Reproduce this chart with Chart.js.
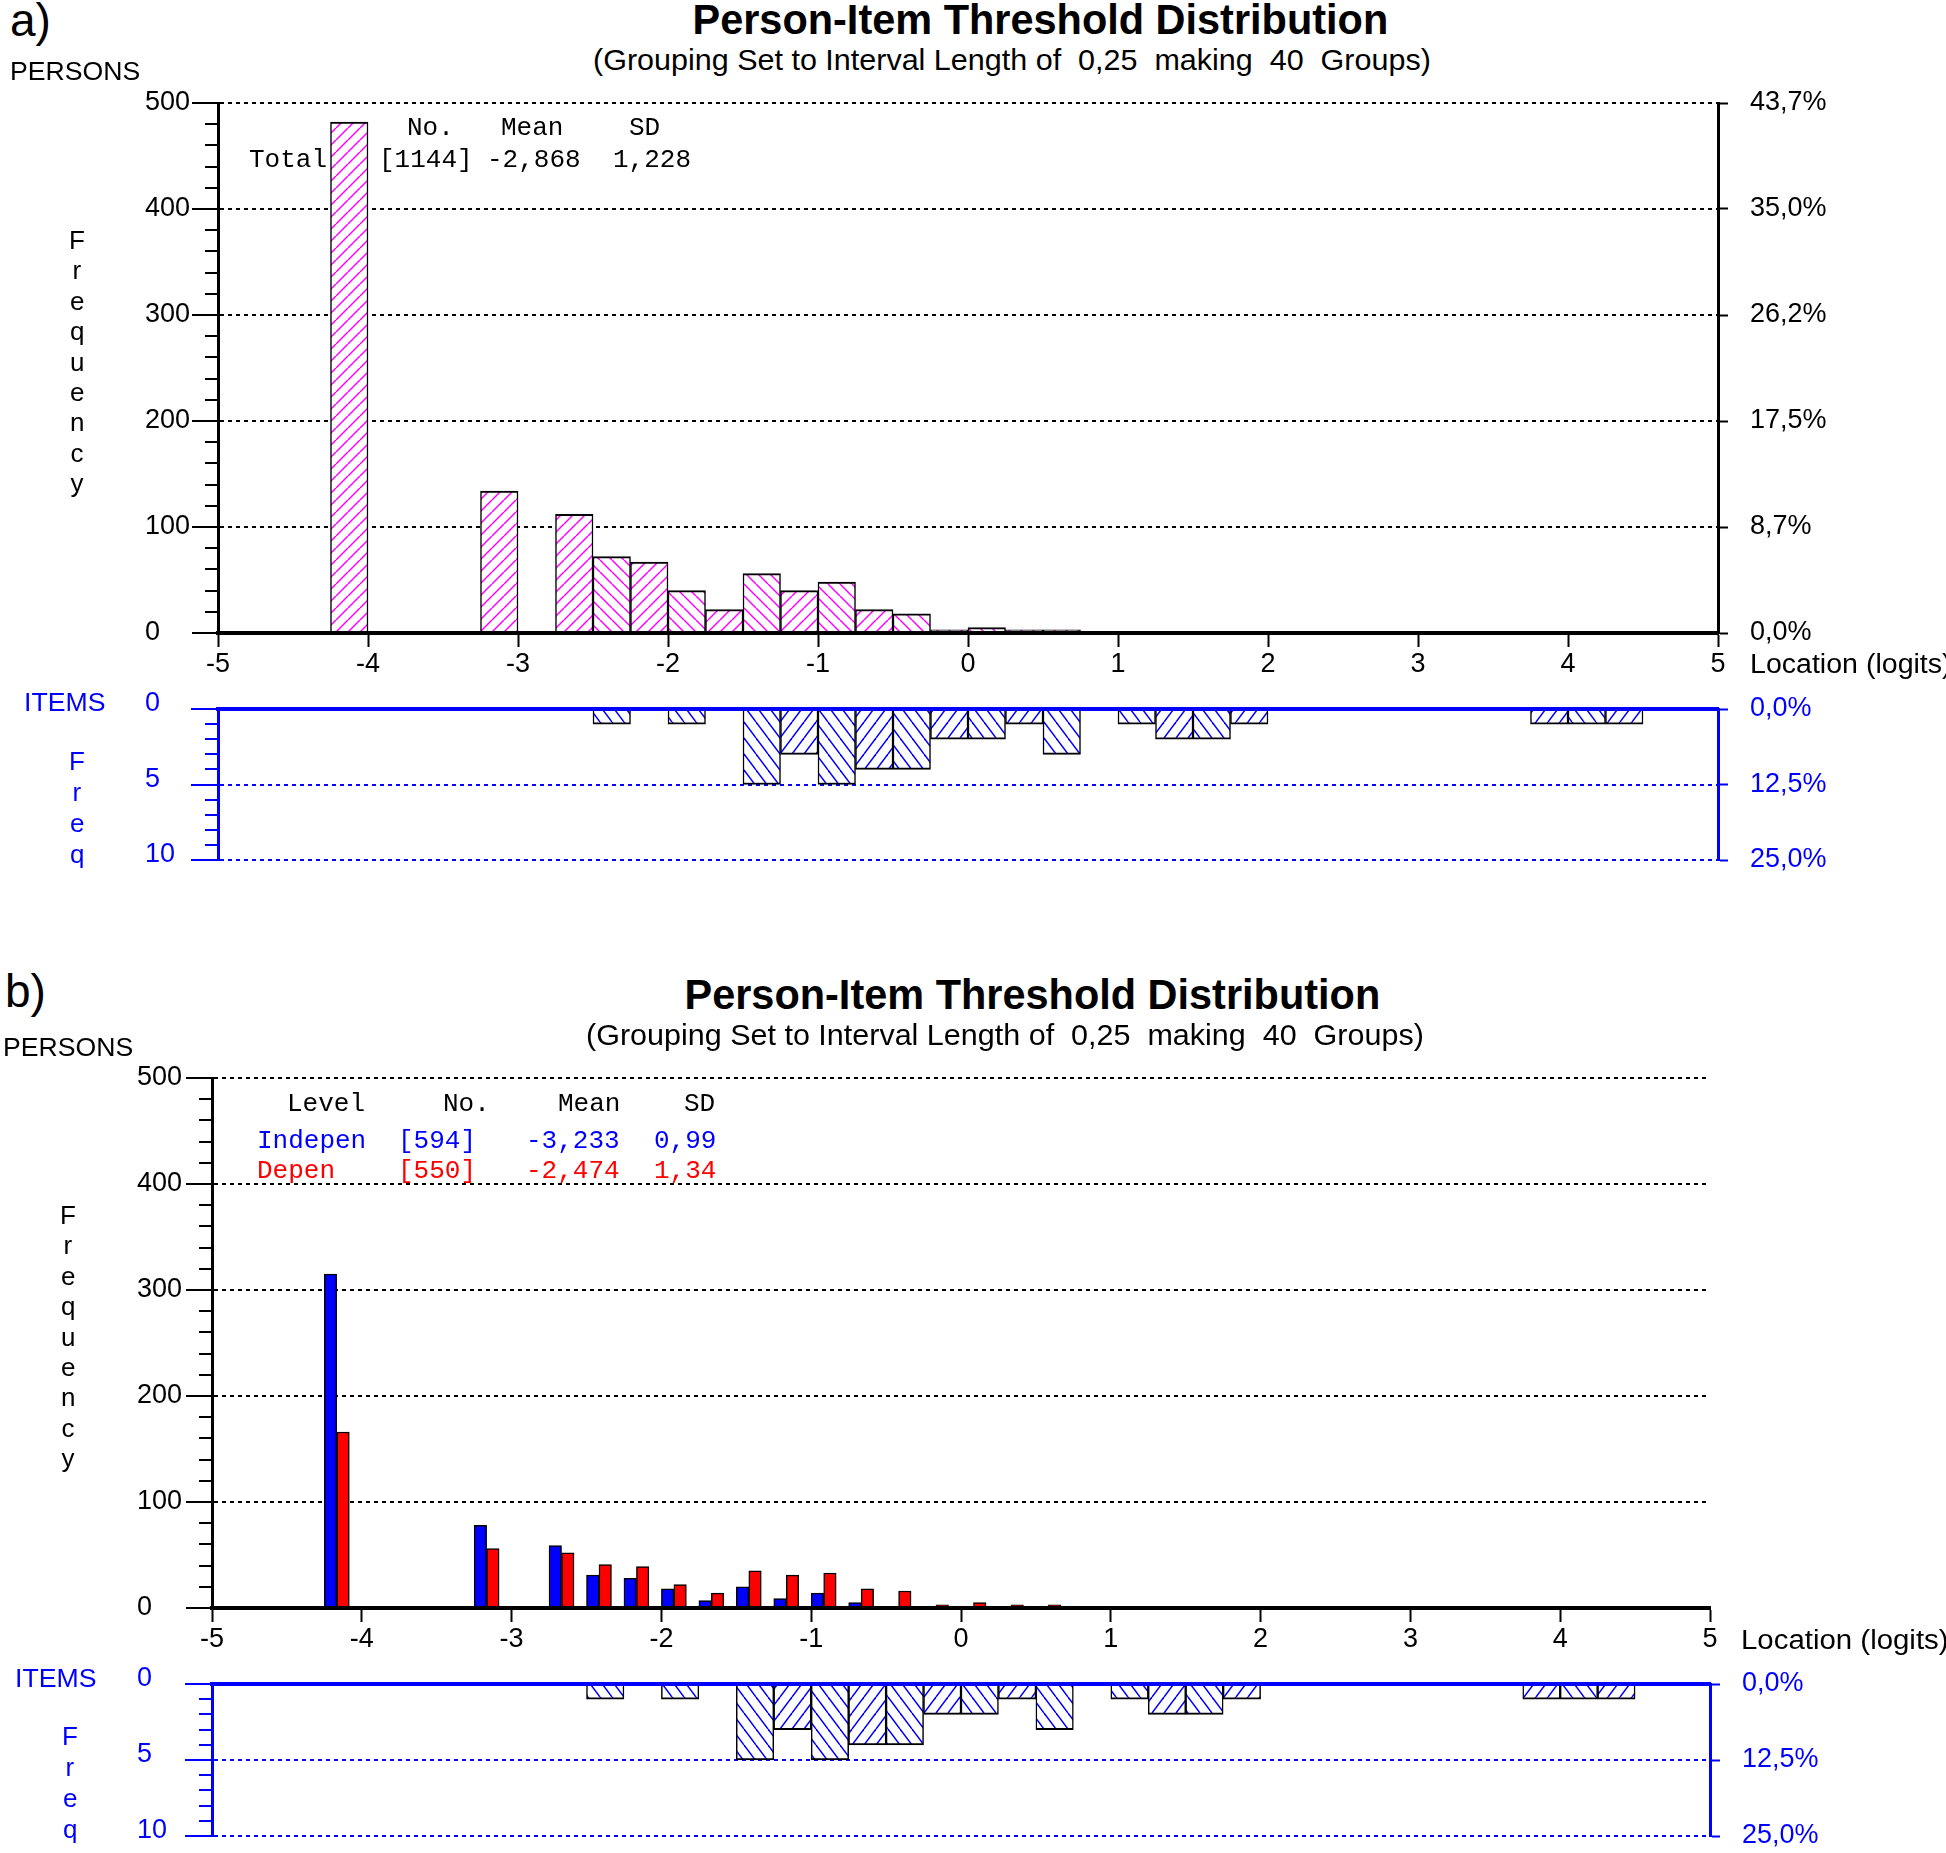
<!DOCTYPE html>
<html>
<head>
<meta charset="utf-8">
<script src="https://cdn.jsdelivr.net/npm/chart.js@4.4.0/dist/chart.umd.min.js"></script>
<style>
html, body { margin: 0; padding: 0; background: #fff; }
body { width: 1946px; height: 1853px; overflow: hidden; position: relative; font-family: "Liberation Sans", Arial, sans-serif; }
canvas { position: absolute; left: 0; }
.t { position: absolute; white-space: pre; line-height: 1; }
.mono { font-family: "Liberation Mono", "Courier New", monospace; }
</style>
</head>
<body>
<canvas id="personsA" width="1946" height="620" style="top:80px"></canvas>
<canvas id="itemsA" width="1946" height="190" style="top:690px"></canvas>
<canvas id="personsB" width="1946" height="620" style="top:1050px"></canvas>
<canvas id="itemsB" width="1946" height="188" style="top:1665px"></canvas>
<script>
// 40 groups of 0.25 logits, labelled by the lower edge
var binLabels = [
  '-5.00','-4.75','-4.50','-4.25','-4.00','-3.75','-3.50','-3.25','-3.00','-2.75',
  '-2.50','-2.25','-2.00','-1.75','-1.50','-1.25','-1.00','-0.75','-0.50','-0.25',
  '0.00','0.25','0.50','0.75','1.00','1.25','1.50','1.75','2.00','2.25',
  '2.50','2.75','3.00','3.25','3.50','3.75','4.00','4.25','4.50','4.75'
];

var personsTotal = [
  0, 0, 0, 482, 0, 0, 0, 134, 0, 112,
  72, 67, 40, 22, 56, 40, 48, 22, 18, 3,
  5, 3, 3, 0, 0, 0, 0, 0, 0, 0,
  0, 0, 0, 0, 0, 0, 0, 0, 0, 0
];
var indepen = [
  0, 0, 0, 315, 0, 0, 0, 78, 0, 59,
  31, 28, 18, 7, 20, 9, 14, 5, 0, 0,
  0, 0, 0, 0, 0, 0, 0, 0, 0, 0,
  0, 0, 0, 0, 0, 0, 0, 0, 0, 0
];
var depen = [
  0, 0, 0, 166, 0, 0, 0, 56, 0, 52,
  41, 39, 22, 14, 35, 31, 33, 18, 16, 3,
  5, 3, 3, 0, 0, 0, 0, 0, 0, 0,
  0, 0, 0, 0, 0, 0, 0, 0, 0, 0
];
var itemFreq = [
  0, 0, 0, 0, 0, 0, 0, 0, 0, 0,
  1, 0, 1, 0, 5, 3, 5, 4, 4, 2,
  2, 1, 3, 0, 1, 2, 2, 1, 0, 0,
  0, 0, 0, 0, 0, 1, 1, 1, 0, 0
];

var xTickValues = [-5, -4, -3, -2, -1, 0, 1, 2, 3, 4, 5];
var xTicks = ['-5','-4','-3','-2','-1','0','1','2','3','4','5'];
var personTickValues = [0, 100, 200, 300, 400, 500];
var personTicks = ['0','100','200','300','400','500'];
var personPct = ['0,0%','8,7%','17,5%','26,2%','35,0%','43,7%'];
var itemTickValues = [0, 5, 10];
var itemTicks = ['0','5','10'];
var itemPct = ['0,0%','12,5%','25,0%'];

var BLUE = '#0000ff';
var RED = '#ff0000';
Chart.defaults.font.family = '"Liberation Sans", Arial, sans-serif';

function labelFor(values, labels) {
  return function (v) {
    var i = values.indexOf(v);
    return i < 0 ? '' : labels[i];
  };
}

function hatch(color, w, h, dir) {
  var c = document.createElement('canvas');
  c.width = w; c.height = h;
  var g = c.getContext('2d');
  g.fillStyle = '#fff';
  g.fillRect(0, 0, w, h);
  g.strokeStyle = color;
  g.lineWidth = 1.5;
  [-w, 0, w].forEach(function (s) {
    g.beginPath();
    if (dir > 0) { g.moveTo(s, h); g.lineTo(s + w, 0); }
    else { g.moveTo(s, 0); g.lineTo(s + w, h); }
    g.stroke();
  });
  return g.createPattern(c, 'repeat');
}
var pinkUp = hatch('#ff00ff', 12, 12, 1), pinkDown = hatch('#ff00ff', 12, 12, -1);
var blueUp = hatch(BLUE, 12, 16, 1), blueDown = hatch(BLUE, 12, 16, -1);
var pinkFill = binLabels.map(function (_, i) { return i % 2 ? pinkUp : pinkDown; });
var blueFill = binLabels.map(function (_, i) { return i % 2 ? blueUp : blueDown; });

// small ticks between the labelled ones on the left axis
var minorTicks = {
  id: 'minorTicks',
  afterDraw: function (chart, args, o) {
    var y = chart.scales.y, ctx = chart.ctx, left = chart.chartArea.left;
    ctx.save();
    ctx.strokeStyle = o.color;
    ctx.lineWidth = 2;
    for (var v = y.min; v <= y.max; v += o.step) {
      if (v % o.major === 0) continue;
      var py = Math.round(y.getPixelForValue(v));
      ctx.beginPath();
      ctx.moveTo(left - o.len, py);
      ctx.lineTo(left, py);
      ctx.stroke();
    }
    ctx.restore();
  }
};

var tickFont = { size: 27 };

// right-hand % axis: keep the label gap from pushing the plot area in
function rightFit(s) {
  s.width = 220;
  s.paddingTop = 0;
  s.paddingBottom = 0;
}

function personsChart(id, datasets, pad, yWidth, withPct) {
  var scales = {
    x: { display: false, offset: true },
    xl: {
      type: 'linear', position: 'bottom', min: -5, max: 5, offset: false,
      ticks: { stepSize: 1, autoSkip: false, maxRotation: 0, padding: 1, color: '#000', font: tickFont,
               callback: labelFor(xTickValues, xTicks) },
      grid: { offset: false, drawOnChartArea: false, tickLength: 14, tickColor: '#000', tickWidth: 2 },
      border: { color: '#000', width: 4, z: 1 },
      afterFit: function (s) { s.height = 45; }
    },
    y: {
      min: 0, max: 500,
      ticks: { stepSize: 100, crossAlign: 'far', padding: 0, color: '#000', font: tickFont,
               callback: labelFor(personTickValues, personTicks) },
      grid: { color: function (c) { return c.tick && c.tick.value === 0 ? 'transparent' : '#000'; },
              lineWidth: 2, tickLength: 26, tickColor: '#000', tickWidth: 2 },
      border: { color: '#000', width: 3, dash: [4, 4], z: 1 },
      afterFit: function (s) { s.width = yWidth; }
    }
  };
  if (withPct) {
    scales.y2 = {
      position: 'right', min: 0, max: 500,
      ticks: { stepSize: 100, padding: 22, color: '#000', font: tickFont,
               callback: labelFor(personTickValues, personPct) },
      grid: { drawOnChartArea: false, tickLength: 10, tickColor: '#000', tickWidth: 2 },
      border: { color: '#000', width: 3 },
      afterFit: rightFit
    };
  }
  return new Chart(document.getElementById(id), {
    type: 'bar',
    data: { labels: binLabels, datasets: datasets },
    options: {
      responsive: false, animation: false,
      layout: { padding: pad },
      plugins: { legend: { display: false }, tooltip: { enabled: false },
                 minorTicks: { step: 20, major: 100, len: 13, color: '#000' } },
      scales: scales
    },
    plugins: [minorTicks]
  });
}

function itemsChart(id, pad, yWidth) {
  return new Chart(document.getElementById(id), {
    type: 'bar',
    data: {
      labels: binLabels,
      datasets: [{ data: itemFreq, backgroundColor: blueFill, borderColor: '#000',
                   borderWidth: { left: 1.5, right: 1.5, bottom: 2 },
                   barPercentage: 1, categoryPercentage: 1 }]
    },
    options: {
      responsive: false, animation: false,
      layout: { padding: pad },
      plugins: { legend: { display: false }, tooltip: { enabled: false },
                 minorTicks: { step: 1, major: 5, len: 13, color: BLUE } },
      scales: {
        x: { position: 'top', offset: true, ticks: { display: false }, grid: { display: false },
             border: { color: BLUE, width: 4, z: 1 },
             afterFit: function (s) { s.height = 0; } },
        y: {
          reverse: true, min: 0, max: 10,
          ticks: { stepSize: 5, crossAlign: 'far', padding: 0, labelOffset: -5, color: BLUE, font: tickFont,
                   callback: labelFor(itemTickValues, itemTicks) },
          grid: { color: function (c) { return c.tick && c.tick.value === 0 ? 'transparent' : BLUE; },
                  lineWidth: 2, tickLength: 27, tickColor: BLUE, tickWidth: 2 },
          border: { color: BLUE, width: 3, dash: [4, 4], z: 1 },
          afterFit: function (s) { s.width = yWidth; s.paddingTop = 0; s.paddingBottom = 0; }
        },
        y2: {
          position: 'right', reverse: true, min: 0, max: 10,
          ticks: { stepSize: 5, padding: 22, color: BLUE, font: tickFont,
                   callback: labelFor(itemTickValues, itemPct) },
          grid: { drawOnChartArea: false, tickLength: 10, tickColor: BLUE, tickWidth: 2 },
          border: { color: BLUE, width: 3 },
          afterFit: rightFit
        }
      }
    },
    plugins: [minorTicks]
  });
}

personsChart('personsA', [{
  data: personsTotal, backgroundColor: pinkFill, borderColor: '#000',
  borderWidth: { left: 1.5, right: 1.5, top: 2 }, barPercentage: 1, categoryPercentage: 1
}], { left: 145, right: 8, top: 23, bottom: 22 }, 73, true);

itemsChart('itemsA', { left: 145, right: 8, top: 19, bottom: 20 }, 73);

personsChart('personsB', [
  { data: indepen, backgroundColor: BLUE, borderColor: '#000', borderWidth: 1.5, barPercentage: 1, categoryPercentage: 1 },
  { data: depen, backgroundColor: RED, borderColor: '#000', borderWidth: 1.5, barPercentage: 1, categoryPercentage: 1 },
  { data: binLabels.map(function () { return null; }), backgroundColor: 'transparent', borderWidth: 0, barPercentage: 1, categoryPercentage: 1 }
], { left: 137, right: 236, top: 28, bottom: 17 }, 75, false);

itemsChart('itemsB', { left: 137, right: 16, top: 19, bottom: 17 }, 75);

// text around the charts
function put(txt, o) {
  var d = document.createElement('div');
  d.className = 't' + (o.mono ? ' mono' : '');
  d.textContent = txt;
  d.style.fontSize = o.fs + 'px';
  if (o.bold) d.style.fontWeight = 'bold';
  d.style.color = o.color || '#000';
  var top;
  if (o.base !== undefined) top = o.base - (o.mono ? 0.7665 : 0.8465) * o.fs;
  else top = o.y - (o.mono ? 0.44 : 0.4885) * o.fs;
  d.style.top = top + 'px';
  document.body.appendChild(d);
  var w = d.offsetWidth;
  var sx = o.w ? o.w / w : 1;
  if (o.cx !== undefined) {
    d.style.left = (o.cx - w / 2) + 'px';
    d.style.transformOrigin = 'center';
  } else {
    d.style.left = o.x + 'px';
    d.style.transformOrigin = 'left';
  }
  d.style.transform = 'scaleX(' + sx + ')';
}

function column(letters, cx, base0, step, fs, color) {
  letters.forEach(function (ch, i) {
    put(ch, { cx: cx, base: base0 + i * step, fs: fs, color: color });
  });
}

var title = 'Person-Item Threshold Distribution';
var subtitle = '(Grouping Set to Interval Length of  0,25  making  40  Groups)';
var freqLetters = ['F', 'r', 'e', 'q', 'u', 'e', 'n', 'c', 'y'];
var freqShort = ['F', 'r', 'e', 'q'];

// panel a
put('a)', { x: 10, base: 36, fs: 46 });
put(title, { cx: 1040, y: 20, fs: 42, bold: true, w: 696 });
put(subtitle, { cx: 1012, y: 60, fs: 30, w: 838 });
put('PERSONS', { x: 10, y: 71, fs: 26, w: 130 });
column(freqLetters, 77, 249, 30.4, 26, '#000');
put('No.', { x: 407, y: 126, fs: 26, mono: true });
put('Mean', { x: 501, y: 126, fs: 26, mono: true });
put('SD', { x: 629, y: 126, fs: 26, mono: true });
put('Total', { x: 249, y: 158, fs: 26, mono: true });
put('[1144]', { x: 379, y: 158, fs: 26, mono: true });
put('-2,868', { x: 487, y: 158, fs: 26, mono: true });
put('1,228', { x: 613, y: 158, fs: 26, mono: true });
put('Location (logits)', { x: 1750, y: 664, fs: 27, w: 202 });
put('ITEMS', { x: 24, y: 702, fs: 26, w: 81, color: BLUE });
column(freqShort, 77, 770, 31, 26, BLUE);

// panel b
put('b)', { x: 5, base: 1007, fs: 46 });
put(title, { cx: 1032, y: 995, fs: 42, bold: true, w: 696 });
put(subtitle, { cx: 1005, y: 1035, fs: 30, w: 838 });
put('PERSONS', { x: 3, y: 1047, fs: 26, w: 130 });
column(freqLetters, 68, 1224, 30.4, 26, '#000');
put('Level', { x: 287, y: 1102, fs: 26, mono: true });
put('No.', { x: 443, y: 1102, fs: 26, mono: true });
put('Mean', { x: 558, y: 1102, fs: 26, mono: true });
put('SD', { x: 684, y: 1102, fs: 26, mono: true });
put('Indepen', { x: 257, y: 1139, fs: 26, mono: true, color: BLUE });
put('[594]', { x: 398, y: 1139, fs: 26, mono: true, color: BLUE });
put('-3,233', { x: 526, y: 1139, fs: 26, mono: true, color: BLUE });
put('0,99', { x: 654, y: 1139, fs: 26, mono: true, color: BLUE });
put('Depen', { x: 257, y: 1169, fs: 26, mono: true, color: RED });
put('[550]', { x: 398, y: 1169, fs: 26, mono: true, color: RED });
put('-2,474', { x: 526, y: 1169, fs: 26, mono: true, color: RED });
put('1,34', { x: 654, y: 1169, fs: 26, mono: true, color: RED });
put('Location (logits)', { x: 1741, y: 1640, fs: 27, w: 208 });
put('ITEMS', { x: 15, y: 1678, fs: 26, w: 81, color: BLUE });
column(freqShort, 70, 1745, 31, 26, BLUE);
</script>
</body>
</html>
